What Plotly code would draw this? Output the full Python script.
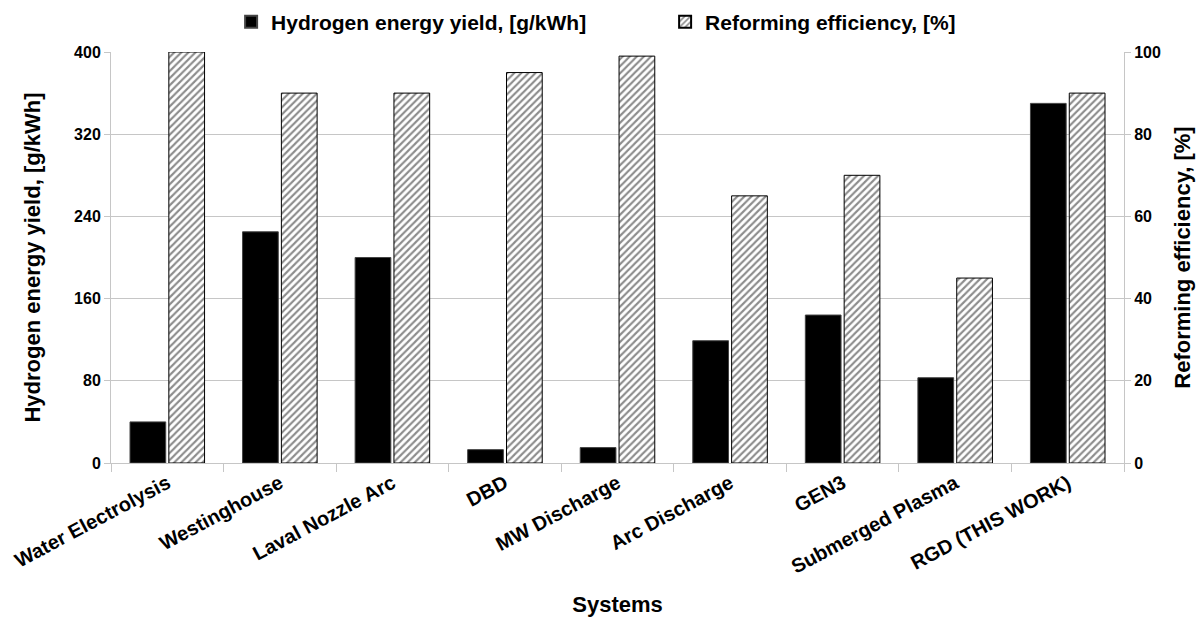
import plotly.graph_objects as go

systems = ["Water Electrolysis", "Westinghouse", "Laval Nozzle Arc", "DBD", "MW Discharge",
           "Arc Discharge", "GEN3", "Submerged Plasma", "RGD (THIS WORK)"]
h2_yield = [40, 225, 200, 13, 15, 119, 144, 83, 350]
reform_eff = [100, 90, 90, 95, 99, 65, 70, 45, 90]
left_ticks = [0, 80, 160, 240, 320, 400]
right_ticks = [0, 20, 40, 60, 80, 100]

FONT = "Liberation Sans, Arial, sans-serif"
GRID = "#c6c6c6"

fig = go.Figure()
fig.add_trace(go.Bar(
    x=systems, y=h2_yield, name="<b>Hydrogen energy yield, [g/kWh]</b>",
    marker=dict(color="black", line=dict(color="#444444", width=1)),
    offsetgroup="1", yaxis="y",
))
fig.add_trace(go.Bar(
    x=systems, y=reform_eff, name="<b>Reforming efficiency, [%]</b>",
    marker=dict(color="white", line=dict(color="black", width=1),
                pattern=dict(shape="/", size=5, solidity=0.42, fgcolor="#1a1a1a", bgcolor="white")),
    offsetgroup="2", yaxis="y2",
))

fig.update_layout(
    width=1200, height=617,
    margin=dict(l=111, r=76, t=52, b=154, autoexpand=False),
    paper_bgcolor="white", plot_bgcolor="white",
    font=dict(family=FONT, size=16, color="black"),
    barmode="group", bargap=0.31, bargroupgap=0.08,
    showlegend=True,
    legend=dict(orientation="h", x=0.547, xanchor="center",
                yref="container", y=1 - 22 / 617, yanchor="middle",
                font=dict(size=21, family=FONT), entrywidth=389, entrywidthmode="pixels",
                itemsizing="constant", traceorder="normal"),
    xaxis=dict(
        tickangle=-28, tickfont=dict(size=20, family=FONT),
        ticks="outside", tickson="boundaries", ticklen=8, tickcolor=GRID,
        showline=True, linecolor=GRID, linewidth=1, automargin=False,
        title=dict(text="<b>Systems</b>", font=dict(size=22, family=FONT), standoff=22),
    ),
    yaxis=dict(
        range=[0, 400], tickvals=left_ticks, ticktext=[f"<b>{v}</b>" for v in left_ticks],
        tickfont=dict(size=16, family=FONT),
        showgrid=True, gridcolor=GRID, gridwidth=1,
        showline=True, linecolor=GRID, linewidth=1, automargin=False,
        ticks="outside", ticklen=6, tickcolor=GRID, zeroline=False,
        title=dict(text="<b>Hydrogen energy yield, [g/kWh]</b>", font=dict(size=22, family=FONT), standoff=27),
    ),
    yaxis2=dict(
        range=[0, 100], tickvals=right_ticks, ticktext=[f"<b>{v}</b>" for v in right_ticks],
        tickfont=dict(size=16, family=FONT),
        overlaying="y", side="right", showgrid=False,
        showline=True, linecolor=GRID, linewidth=1, automargin=False,
        ticks="outside", ticklen=6, tickcolor=GRID, zeroline=False,
        title=dict(text="<b>Reforming efficiency, [%]</b>", font=dict(size=22, family=FONT), standoff=14),
    ),
)
fig.update_xaxes(ticktext=[f"<b>{s}</b>" for s in systems], tickvals=systems)

fig.write_html("out.html")
